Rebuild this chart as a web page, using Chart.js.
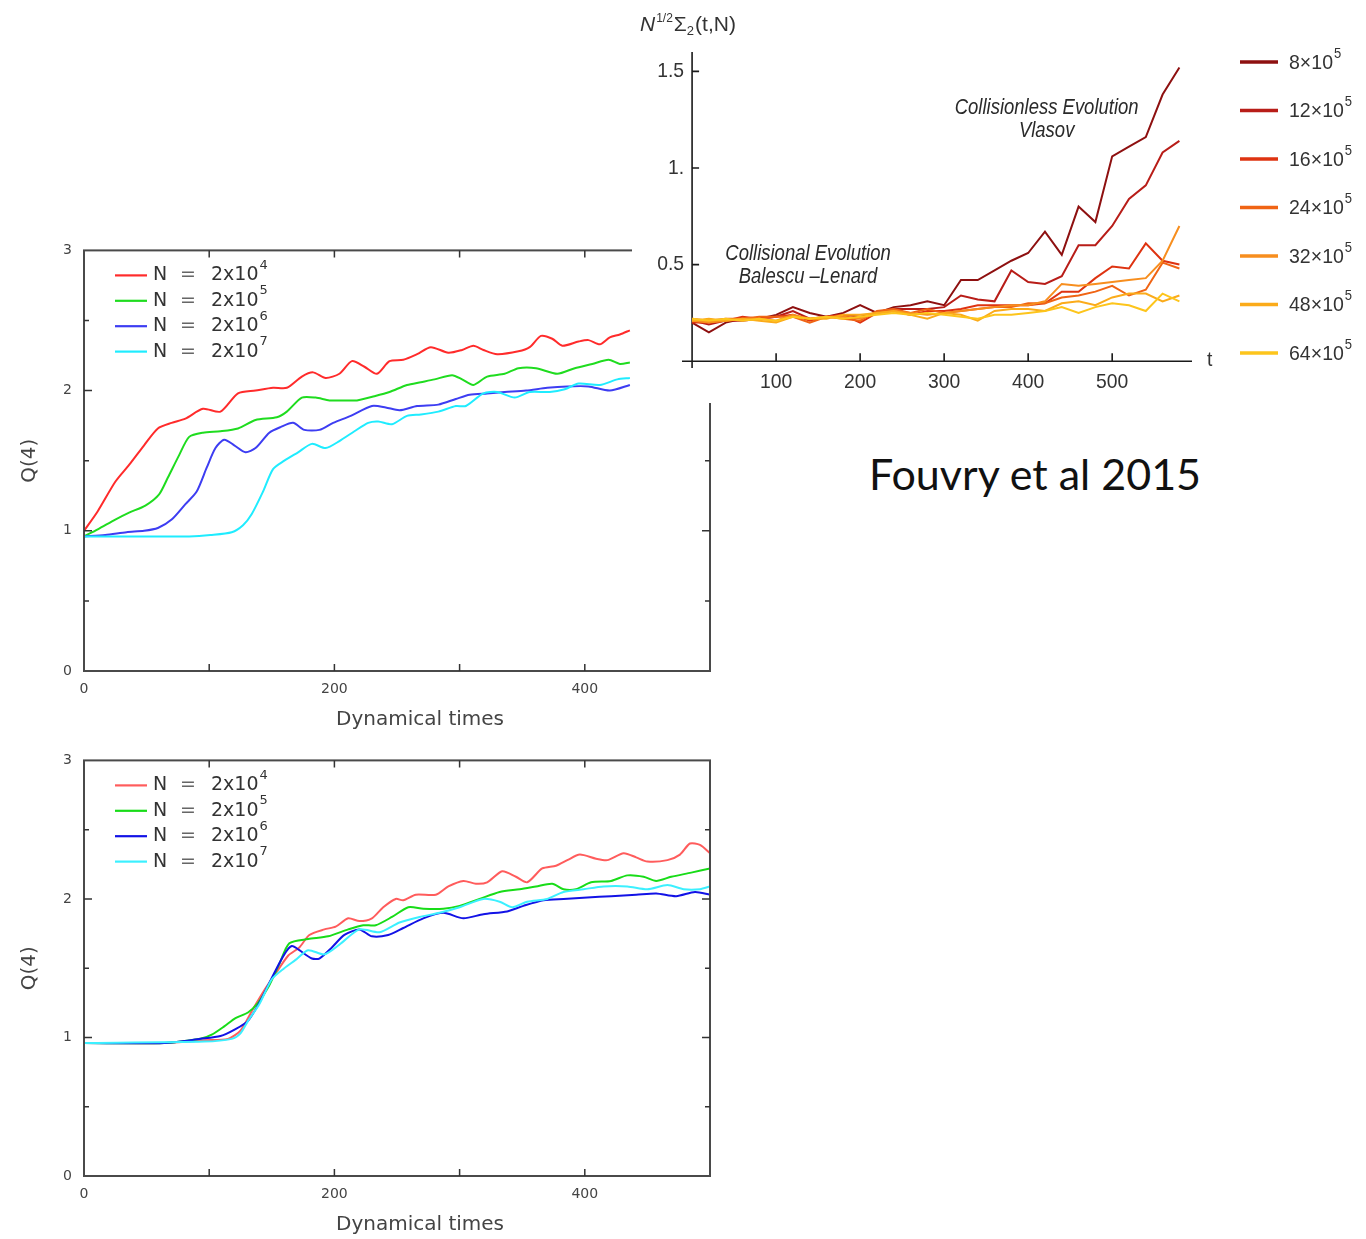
<!DOCTYPE html>
<html>
<head>
<meta charset="utf-8">
<title>Q(4) and N^1/2 Sigma2 evolution</title>
<script src="https://cdn.jsdelivr.net/npm/chart.js@4.4.1/dist/chart.umd.min.js"></script>
<style>
  html, body { margin: 0; padding: 0; background: #fff; }
  body { width: 1366px; height: 1239px; position: relative; overflow: hidden; }
  .panel { position: absolute; }
  #q-top-wrap { left: 0; top: 230px; width: 720px; height: 510px; }
  #q-bottom-wrap { left: 0; top: 740px; width: 720px; height: 499px; }
  #sigma-wrap { left: 632px; top: 0; width: 734px; height: 403px; background: #fff; z-index: 2; }
  #credit {
    position: absolute; left: 869px; top: 449px; z-index: 3;
    font: 43px Lato, "Open Sans", sans-serif; line-height: 50px; color: #111;
  }
</style>
</head>
<body>
<div class="panel" id="q-top-wrap"><canvas id="q-top"></canvas></div>
<div class="panel" id="q-bottom-wrap"><canvas id="q-bottom"></canvas></div>
<div class="panel" id="sigma-wrap"><canvas id="sigma"></canvas></div>
<div id="credit">Fouvry et al 2015</div>

<script>
/* ---------- Q(4) panels: [dynamical time, Q(4)] ---------- */
const nExponents = ['4', '5', '6', '7'];

const topN4 = [[0,1.00],[11,1.14],[25,1.35],[36,1.47],[48,1.61],[59,1.73],[70,1.77],[81,1.80],[95,1.87],[109,1.85],[123,1.98],[137,2.00],[151,2.02],[162,2.02],[174,2.10],[183,2.13],[193,2.09],[204,2.12],[214,2.21],[224,2.17],[234,2.12],[244,2.21],[255,2.22],[266,2.26],[277,2.31],[291,2.27],[302,2.29],[311,2.32],[319,2.29],[330,2.26],[347,2.28],[356,2.31],[365,2.39],[374,2.37],[382,2.32],[395,2.35],[403,2.36],[412,2.33],[420,2.38],[428,2.40],[436,2.43]];
const topN5 = [[0,0.96],[11,1.01],[25,1.08],[36,1.13],[49,1.18],[60,1.26],[67,1.38],[76,1.54],[84,1.67],[95,1.70],[109,1.71],[123,1.73],[137,1.79],[154,1.81],[162,1.85],[174,1.95],[185,1.95],[196,1.93],[207,1.93],[218,1.93],[232,1.96],[244,1.99],[258,2.04],[269,2.06],[280,2.08],[294,2.11],[302,2.08],[311,2.04],[322,2.10],[336,2.12],[347,2.16],[361,2.16],[378,2.12],[392,2.16],[406,2.19],[419,2.22],[428,2.19],[436,2.20]];
const topN6 = [[0,0.96],[17,0.97],[34,0.99],[48,1.00],[59,1.02],[70,1.08],[81,1.19],[90,1.28],[98,1.45],[105,1.59],[112,1.65],[120,1.61],[129,1.56],[137,1.59],[148,1.70],[157,1.74],[167,1.77],[176,1.72],[188,1.72],[199,1.77],[213,1.82],[230,1.89],[241,1.88],[252,1.86],[266,1.89],[283,1.90],[297,1.94],[308,1.97],[322,1.98],[336,1.99],[353,2.00],[370,2.02],[386,2.03],[403,2.03],[420,2.00],[436,2.04]];
const topN7 = [[0,0.96],[28,0.96],[56,0.96],[84,0.96],[101,0.97],[118,0.99],[127,1.04],[134,1.12],[143,1.28],[151,1.44],[160,1.50],[171,1.56],[182,1.62],[193,1.59],[204,1.64],[216,1.71],[227,1.77],[235,1.78],[246,1.76],[258,1.82],[269,1.83],[283,1.85],[297,1.89],[305,1.89],[319,1.98],[330,1.99],[344,1.95],[356,1.99],[372,1.99],[384,2.01],[395,2.05],[412,2.04],[426,2.08],[436,2.09]];

const botN4 = [[0,0.96],[64,0.96],[96,0.98],[115,0.99],[125,1.05],[134,1.19],[144,1.34],[153,1.46],[163,1.59],[172,1.65],[180,1.74],[192,1.78],[201,1.80],[211,1.86],[220,1.84],[230,1.86],[239,1.94],[249,2.00],[255,1.99],[265,2.03],[281,2.03],[291,2.09],[303,2.13],[313,2.11],[322,2.12],[334,2.20],[345,2.16],[354,2.12],[366,2.22],[377,2.24],[386,2.28],[396,2.32],[409,2.29],[418,2.28],[431,2.33],[441,2.30],[450,2.27],[466,2.28],[476,2.32],[484,2.40],[492,2.39],[500,2.33]];
const botN5 = [[0,0.96],[64,0.96],[93,0.99],[102,1.02],[112,1.08],[121,1.14],[131,1.18],[139,1.25],[147,1.36],[156,1.53],[164,1.68],[179,1.71],[195,1.73],[211,1.78],[223,1.81],[233,1.81],[246,1.87],[259,1.94],[271,1.93],[287,1.93],[300,1.95],[316,2.00],[332,2.05],[348,2.07],[361,2.09],[374,2.11],[383,2.07],[393,2.07],[405,2.12],[421,2.13],[434,2.17],[447,2.16],[457,2.13],[469,2.16],[485,2.19],[500,2.22]];
const botN6 = [[0,0.96],[64,0.96],[93,0.99],[109,1.01],[121,1.06],[131,1.12],[140,1.25],[150,1.43],[160,1.60],[166,1.66],[172,1.63],[182,1.57],[188,1.57],[198,1.65],[208,1.74],[220,1.78],[230,1.73],[243,1.74],[255,1.79],[271,1.86],[287,1.90],[303,1.86],[319,1.89],[338,1.91],[351,1.95],[367,1.99],[383,2.00],[402,2.01],[421,2.02],[441,2.03],[457,2.04],[473,2.02],[488,2.05],[500,2.03]];
const botN7 = [[0,0.96],[96,0.97],[118,0.99],[125,1.03],[131,1.12],[140,1.24],[150,1.42],[160,1.50],[169,1.56],[179,1.63],[192,1.60],[204,1.67],[220,1.78],[236,1.76],[252,1.83],[268,1.87],[284,1.90],[300,1.94],[319,2.00],[332,1.98],[342,1.94],[354,1.98],[370,2.00],[383,2.05],[399,2.07],[415,2.09],[434,2.09],[450,2.07],[466,2.10],[479,2.07],[492,2.07],[500,2.09]];

/* ---------- N^1/2 Sigma2(t,N) panel ---------- */
const tGrid = [0,20,40,60,80,100,120,140,160,180,200,220,240,260,280,300,320,340,360,380,400,420,440,460,480,500,520,540,560,580];
const sigmaN = ['8', '12', '16', '24', '32', '48', '64'];
const sigma8  = [0.20,0.15,0.20,0.22,0.22,0.24,0.28,0.25,0.23,0.25,0.29,0.25,0.28,0.29,0.31,0.29,0.42,0.42,0.47,0.52,0.56,0.67,0.55,0.80,0.72,1.06,1.11,1.16,1.38,1.52];
const sigma12 = [0.21,0.19,0.21,0.21,0.22,0.23,0.26,0.22,0.23,0.24,0.23,0.25,0.27,0.27,0.27,0.28,0.34,0.32,0.31,0.47,0.41,0.40,0.44,0.60,0.60,0.70,0.84,0.91,1.08,1.14];
const sigma16 = [0.20,0.20,0.21,0.23,0.22,0.23,0.24,0.21,0.23,0.24,0.20,0.25,0.26,0.24,0.26,0.26,0.27,0.29,0.29,0.29,0.29,0.30,0.36,0.36,0.43,0.49,0.48,0.61,0.52,0.50];
const sigma24 = [0.22,0.21,0.22,0.22,0.23,0.23,0.23,0.20,0.23,0.22,0.21,0.26,0.27,0.25,0.27,0.25,0.26,0.27,0.28,0.28,0.30,0.30,0.33,0.34,0.36,0.39,0.34,0.37,0.51,0.48];
const sigma32 = [0.21,0.20,0.21,0.22,0.22,0.21,0.24,0.22,0.23,0.23,0.22,0.25,0.26,0.25,0.24,0.25,0.26,0.27,0.28,0.29,0.29,0.31,0.40,0.39,0.40,0.41,0.42,0.43,0.52,0.70];
const sigma48 = [0.21,0.22,0.21,0.22,0.21,0.20,0.23,0.22,0.22,0.24,0.24,0.25,0.26,0.24,0.22,0.25,0.24,0.21,0.26,0.27,0.27,0.26,0.30,0.31,0.29,0.33,0.35,0.35,0.31,0.34];
const sigma64 = [0.22,0.21,0.22,0.21,0.22,0.21,0.23,0.22,0.23,0.22,0.23,0.24,0.25,0.24,0.25,0.24,0.23,0.22,0.24,0.24,0.25,0.26,0.28,0.25,0.28,0.30,0.29,0.26,0.35,0.31];
const sigmaTicksX = [100, 200, 300, 400, 500];
const sigmaTicksY = [0.5, 1, 1.5];
const sigmaTickText = ['0.5', '1.', '1.5'];

const qColorsTop = ['#ff2b2b', '#1fdc1f', '#3d3df2', '#1fecff'];
const qColorsBottom = ['#ff5c5c', '#18dc18', '#1212e6', '#3cf0ff'];
const sigmaColors = ['#8e1010', '#b81d18', '#de3311', '#f06414', '#f78e1e', '#fbab1a', '#fdc51c'];

const qFont = '"DejaVu Sans", "Liberation Sans", sans-serif';
const mFont = '"Liberation Sans", Arial, sans-serif';

// Frame, inward ticks, legend and axis titles for the Q(4) panels
const qDecor = {
  id: 'qDecor',
  afterDraw(chart) {
    const { ctx, chartArea: a, scales: { x, y } } = chart;
    ctx.save();
    ctx.strokeStyle = '#4a4a4a';
    ctx.lineWidth = 2;
    ctx.strokeRect(a.left, a.top, a.right - a.left, a.bottom - a.top);

    ctx.lineWidth = 1.5;
    ctx.strokeStyle = '#333';
    ctx.beginPath();
    x.ticks.forEach(t => {
      if (t.value <= x.min || t.value >= x.max) return;
      const px = x.getPixelForValue(t.value);
      ctx.moveTo(px, a.bottom); ctx.lineTo(px, a.bottom - 7);
      ctx.moveTo(px, a.top); ctx.lineTo(px, a.top + 7);
    });
    y.ticks.forEach(t => {
      if (t.value <= y.min || t.value >= y.max) return;
      const py = y.getPixelForValue(t.value);
      const len = Number.isInteger(t.value) ? 8 : 5;
      ctx.moveTo(a.left, py); ctx.lineTo(a.left + len, py);
      ctx.moveTo(a.right, py); ctx.lineTo(a.right - len, py);
    });
    ctx.stroke();

    // legend, one row per N
    ctx.textBaseline = 'middle';
    ctx.textAlign = 'left';
    chart.data.datasets.forEach((ds, i) => {
      const ry = a.top + 25 + i * 25.4;
      ctx.strokeStyle = ds.borderColor;
      ctx.lineWidth = 2.2;
      ctx.beginPath();
      ctx.moveTo(a.left + 31, ry); ctx.lineTo(a.left + 63, ry);
      ctx.stroke();
      ctx.font = '19px ' + qFont;
      ctx.fillStyle = '#333';
      ctx.fillText('N', a.left + 69, ry);
      ctx.fillStyle = '#666';
      ctx.fillText('=', a.left + 96, ry);
      ctx.fillStyle = '#333';
      ctx.fillText('2x10', a.left + 127, ry);
      const w = ctx.measureText('2x10').width;
      ctx.font = '13px ' + qFont;
      ctx.fillText(nExponents[i], a.left + 128 + w, ry - 10);
    });

    // axis titles
    ctx.fillStyle = '#444';
    ctx.font = '20px ' + qFont;
    ctx.textAlign = 'center';
    ctx.fillText('Dynamical times', 420, a.bottom + 49);
    ctx.translate(30, (a.top + a.bottom) / 2);
    ctx.rotate(-Math.PI / 2);
    ctx.fillText('Q(4)', 0, 0);
    ctx.restore();
  }
};

function qChart(id, series, colors, topPad, xHeight) {
  return new Chart(document.getElementById(id), {
    type: 'line',
    data: {
      datasets: series.map((s, i) => ({
        label: 'N = 2x10^' + nExponents[i],
        data: s.map(([t, q]) => ({ x: t, y: q })),
        borderColor: colors[i],
        borderWidth: 2,
        pointRadius: 0,
        tension: 0.25,
        fill: false,
        order: series.length - i
      }))
    },
    options: {
      responsive: true,
      maintainAspectRatio: false,
      animation: false,
      layout: { padding: { top: topPad, right: 6, left: 0, bottom: 0 } },
      plugins: { legend: { display: false }, tooltip: { enabled: false } },
      scales: {
        x: {
          type: 'linear', min: 0, max: 500,
          afterFit: s => { s.height = xHeight; },
          grid: { display: false, drawTicks: false },
          border: { display: false },
          ticks: {
            stepSize: 100, padding: 10, maxRotation: 0, autoSkip: false,
            color: '#444', font: { size: 14, family: qFont },
            callback: v => (v % 200 === 0 ? String(v) : '')
          }
        },
        y: {
          min: 0, max: 3,
          afterFit: s => { s.width = 84; },
          grid: { display: false, drawTicks: false },
          border: { display: false },
          ticks: {
            stepSize: 0.5, padding: 12, autoSkip: false,
            color: '#444', font: { size: 14, family: qFont },
            callback: v => (Number.isInteger(v) ? String(v) : '')
          }
        }
      }
    },
    plugins: [qDecor]
  });
}

qChart('q-top', [topN4, topN5, topN6, topN7], qColorsTop, 18, 69);
qChart('q-bottom', [botN4, botN5, botN6, botN7], qColorsBottom, 15, 63);

// horizontally squeezed text for the condensed labels of the right panel
function squeezed(ctx, str, x, y, font, align, sx) {
  ctx.save();
  ctx.font = font;
  ctx.textAlign = align;
  ctx.translate(x, y);
  ctx.scale(sx, 1);
  ctx.fillText(str, 0, 0);
  ctx.restore();
}

const sigmaNotes = [
  { lines: ['Collisionless Evolution', 'Vlasov'], t: 422, v: 1.312, gap: 23 },
  { lines: ['Collisional Evolution', 'Balescu \u2013Lenard'], t: 138, v: 0.557, gap: 23 }
];

const sigmaDecor = {
  id: 'sigmaDecor',
  beforeDatasetsDraw(chart) {
    const { ctx, chartArea: a, scales: { x, y } } = chart;
    const x0 = x.getPixelForValue(0);
    const y0 = y.getPixelForValue(0);
    ctx.save();
    ctx.strokeStyle = '#1a1a1a';
    ctx.lineWidth = 1.6;
    ctx.beginPath();
    ctx.moveTo(a.left, y0); ctx.lineTo(a.right, y0);
    ctx.moveTo(x0, a.top); ctx.lineTo(x0, a.bottom);
    sigmaTicksX.forEach(t => {
      const px = x.getPixelForValue(t);
      ctx.moveTo(px, y0); ctx.lineTo(px, y0 - 8);
    });
    sigmaTicksY.forEach(v => {
      const py = y.getPixelForValue(v);
      ctx.moveTo(x0, py); ctx.lineTo(x0 + 7, py);
    });
    ctx.stroke();
    ctx.restore();
  },
  afterDraw(chart) {
    const { ctx, chartArea: a, scales: { x, y } } = chart;
    const x0 = x.getPixelForValue(0);
    const y0 = y.getPixelForValue(0);
    ctx.save();
    ctx.fillStyle = '#333';
    ctx.textBaseline = 'middle';

    sigmaTicksX.forEach(t => {
      squeezed(ctx, String(t), x.getPixelForValue(t), y0 + 21, '21px ' + mFont, 'center', 0.92);
    });
    sigmaTicksY.forEach((v, i) => {
      squeezed(ctx, sigmaTickText[i], x0 - 8, y.getPixelForValue(v), '21px ' + mFont, 'right', 0.92);
    });
    squeezed(ctx, 't', a.right + 15, y0 - 1, '21px ' + mFont, 'left', 0.92);

    // y title: N^{1/2} Sigma_2 (t,N)
    ctx.textBaseline = 'alphabetic';
    ctx.textAlign = 'left';
    let cx = 8;
    const base = 31;
    ctx.font = 'italic 21px ' + mFont;
    ctx.fillText('N', cx, base); cx += ctx.measureText('N').width + 1;
    ctx.font = '12px ' + mFont;
    ctx.fillText('1/2', cx, base - 9); cx += ctx.measureText('1/2').width + 1;
    ctx.font = '21px ' + mFont;
    ctx.fillText('\u03a3', cx, base); cx += ctx.measureText('\u03a3').width;
    ctx.font = '13px ' + mFont;
    ctx.fillText('2', cx, base + 4); cx += ctx.measureText('2').width + 1;
    ctx.font = '21px ' + mFont;
    ctx.fillText('(t,N)', cx, base);

    // annotations
    ctx.textBaseline = 'middle';
    ctx.fillStyle = '#2a2a2a';
    sigmaNotes.forEach(n => {
      const px = x.getPixelForValue(n.t);
      const py = y.getPixelForValue(n.v);
      n.lines.forEach((s, k) => squeezed(ctx, s, px, py + k * n.gap, 'italic 22px ' + mFont, 'center', 0.84));
    });

    // legend
    chart.data.datasets.forEach((ds, i) => {
      const ry = 62 + i * 48.5;
      ctx.strokeStyle = ds.borderColor;
      ctx.lineWidth = 3.5;
      ctx.beginPath();
      ctx.moveTo(608, ry); ctx.lineTo(646, ry);
      ctx.stroke();
      ctx.fillStyle = '#333';
      ctx.textAlign = 'left';
      ctx.font = '21px ' + mFont;
      ctx.save();
      ctx.translate(657, ry + 1);
      ctx.scale(0.93, 1);
      const label = sigmaN[i] + '\u00d710';
      ctx.fillText(label, 0, 0);
      const w = ctx.measureText(label).width;
      ctx.font = '14px ' + mFont;
      ctx.fillText('5', w + 1, -9);
      ctx.restore();
    });
    ctx.restore();
  }
};

const sigmaSeries = [sigma8, sigma12, sigma16, sigma24, sigma32, sigma48, sigma64];

new Chart(document.getElementById('sigma'), {
  type: 'line',
  data: {
    datasets: sigmaSeries.map((vals, i) => ({
      label: sigmaN[i] + '\u00d710^5',
      data: vals.map((v, j) => ({ x: tGrid[j], y: v })),
      borderColor: sigmaColors[i],
      borderWidth: 2,
      pointRadius: 0,
      tension: 0,
      fill: false,
      order: sigmaSeries.length - i
    }))
  },
  options: {
    responsive: true,
    maintainAspectRatio: false,
    animation: false,
    layout: { padding: { top: 52, right: 174, left: 0, bottom: 0 } },
    plugins: { legend: { display: false }, tooltip: { enabled: false } },
    scales: {
      x: {
        type: 'linear', min: -12, max: 595,
        afterFit: s => { s.height = 35; },
        grid: { display: false, drawTicks: false },
        border: { display: false },
        ticks: { display: false }
      },
      y: {
        min: -0.035, max: 1.6,
        afterFit: s => { s.width = 50; },
        grid: { display: false, drawTicks: false },
        border: { display: false },
        ticks: { display: false }
      }
    }
  },
  plugins: [sigmaDecor]
});
</script>
</body>
</html>
